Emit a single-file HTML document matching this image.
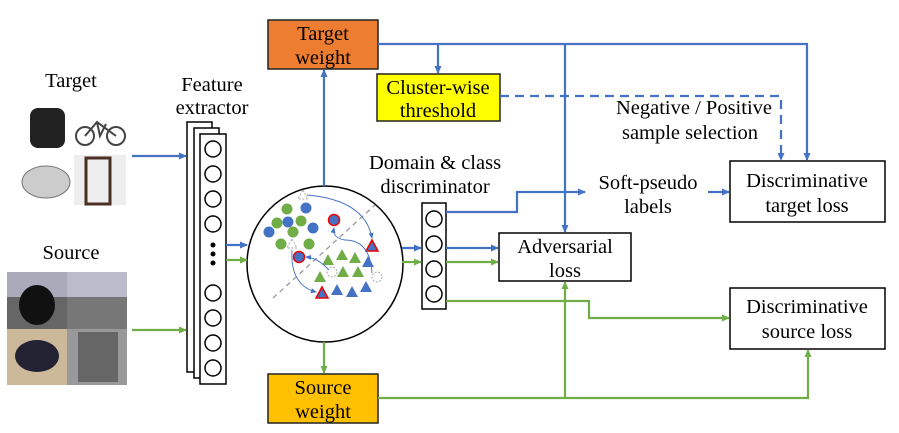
<!DOCTYPE html>
<html><head><meta charset="utf-8"><style>
html,body{margin:0;padding:0;background:#fff;}
svg{display:block;font-family:"Liberation Serif",serif;}
</style></head><body>
<svg width="899" height="433" viewBox="0 0 899 433" xmlns="http://www.w3.org/2000/svg">
<defs>
<marker id="ab" markerWidth="8" markerHeight="8" refX="7" refY="4" orient="auto" markerUnits="userSpaceOnUse"><path d="M0,0.5 L8,4 L0,7.5z" fill="#4472C4"/></marker>
<marker id="ag" markerWidth="8" markerHeight="8" refX="7" refY="4" orient="auto" markerUnits="userSpaceOnUse"><path d="M0,0.5 L8,4 L0,7.5z" fill="#70AD47"/></marker>
<marker id="as" markerWidth="6" markerHeight="6" refX="5" refY="3" orient="auto" markerUnits="userSpaceOnUse"><path d="M0,0.5 L6,3 L0,5.5z" fill="#4472C4"/></marker>
</defs>
<g font-size="20.5" text-anchor="middle" fill="#000">
<text x="71" y="87">Target</text>
<text x="71" y="259">Source</text>
<text x="212" y="91">Feature</text>
<text x="212" y="114">extractor</text>
<text x="435" y="169">Domain &amp; class</text>
<text x="435" y="193">discriminator</text>
<text x="648" y="189">Soft-pseudo</text>
<text x="648" y="213">labels</text>
<text x="694" y="114">Negative / Positive</text>
<text x="690" y="139">sample selection</text>
</g>
<!-- target images -->
<rect x="30" y="108" width="35" height="40" rx="8" fill="#222"/>
<g stroke="#444" stroke-width="2" fill="none"><circle cx="85" cy="136" r="9"/><circle cx="116" cy="136" r="9"/><path d="M85,136 L97,122 L116,136 M97,122 L100,136 L106,124"/></g>
<ellipse cx="46" cy="182" rx="24" ry="16" fill="#ccc" stroke="#777"/>
<rect x="74" y="155" width="52" height="50" fill="#eee"/>
<rect x="86" y="158" width="24" height="46" fill="none" stroke="#4a2f22" stroke-width="3"/>
<!-- source images -->
<rect x="7" y="272" width="60" height="57" fill="#666"/><rect x="7" y="272" width="60" height="25" fill="#aab"/>
<ellipse cx="37" cy="305" rx="18" ry="20" fill="#111"/>
<rect x="67" y="272" width="60" height="57" fill="#777"/><rect x="67" y="272" width="60" height="25" fill="#bbc"/>
<rect x="7" y="329" width="60" height="56" fill="#cbb99a"/><ellipse cx="37" cy="356" rx="22" ry="16" fill="#223"/>
<rect x="67" y="329" width="60" height="56" fill="#999"/><rect x="78" y="332" width="40" height="50" fill="#666"/>
<!-- feature extractor -->
<g stroke="#000" stroke-width="1.5" fill="#fff">
<rect x="187" y="122" width="25" height="250"/>
<rect x="194" y="128" width="25" height="250"/>
<rect x="200" y="134" width="26" height="250"/>
<circle cx="213" cy="149" r="8"/><circle cx="213" cy="174" r="8"/><circle cx="213" cy="199" r="8"/><circle cx="213" cy="224" r="8"/>
<circle cx="213" cy="293" r="8"/><circle cx="213" cy="318" r="8"/><circle cx="213" cy="343" r="8"/><circle cx="213" cy="368" r="8"/>
</g>
<circle cx="213" cy="245" r="2.5"/><circle cx="213" cy="254" r="2.5"/><circle cx="213" cy="263" r="2.5"/>
<!-- big circle -->
<circle cx="325" cy="264" r="78" fill="#fff" stroke="#000" stroke-width="1.5"/>
<line x1="273" y1="298" x2="375" y2="205" stroke="#999" stroke-dasharray="5,4" stroke-width="1.3"/>
<g fill="#70AD47"><circle cx="287" cy="209" r="5.5"/><circle cx="277" cy="223" r="5.5"/><circle cx="301" cy="221" r="5.5"/><circle cx="293" cy="232" r="5.5"/><circle cx="281" cy="244" r="5.5"/><circle cx="309" cy="244" r="5.5"/></g>
<g fill="#4472C4"><circle cx="306" cy="208" r="5.5"/><circle cx="288" cy="222" r="5.5"/><circle cx="313" cy="228" r="5.5"/><circle cx="269" cy="232" r="5.5"/></g>
<g fill="#4472C4" stroke="#e00" stroke-width="1.5"><circle cx="334" cy="220" r="5.5"/><circle cx="299" cy="257" r="5.5"/>
<path d="M372,240 L378,251 L366,251z"/><path d="M322,287 L328,298 L316,298z"/></g>
<g fill="#70AD47"><path d="M328,254 L334,265 L322,265z"/><path d="M342,249 L348,260 L336,260z"/><path d="M355,252 L361,263 L349,263z"/><path d="M320,271 L326,282 L314,282z"/><path d="M343,266 L349,277 L337,277z"/><path d="M358,266 L364,277 L352,277z"/></g>
<g fill="#4472C4"><path d="M368,256 L374,267 L362,267z"/><path d="M337,284 L343,295 L331,295z"/><path d="M352,286 L358,297 L346,297z"/><path d="M366,281 L372,292 L360,292z"/></g>
<g fill="#fff" stroke="#aaa" stroke-dasharray="2,1.5"><path d="M303,190 L308,199 L298,199z"/><path d="M292,239 L297,248 L287,248z"/><circle cx="332" cy="272" r="5"/><circle cx="377" cy="277" r="5"/></g>
<g fill="none" stroke="#4472C4" stroke-width="0.9">
<path d="M307,195 Q365,200 372,238" marker-end="url(#as)"/>
<path d="M372,273 Q370,240 345,240 Q332,238 334,228" marker-end="url(#as)"/>
<path d="M329,270 Q318,258 306,257" marker-end="url(#as)"/>
<path d="M292,250 Q290,285 316,292" marker-end="url(#as)"/>
</g>
<!-- discriminator -->
<g stroke="#000" stroke-width="1.5" fill="#fff">
<rect x="422" y="203" width="24" height="106"/>
<circle cx="434" cy="219" r="8"/><circle cx="434" cy="244" r="8"/><circle cx="434" cy="269" r="8"/><circle cx="434" cy="294" r="8"/>
</g>
<!-- boxes -->
<rect x="268" y="20" width="110" height="49" fill="#ED7D31" stroke="#222" stroke-width="1.5"/>
<rect x="268" y="374" width="110" height="49" fill="#FFC000" stroke="#222" stroke-width="1.5"/>
<rect x="377" y="74" width="123" height="47" fill="#FFFF00" stroke="#222" stroke-width="1.5"/>
<rect x="499" y="233" width="132" height="48" fill="#fff" stroke="#000" stroke-width="1.5"/>
<rect x="730" y="161" width="155" height="61" fill="#fff" stroke="#000" stroke-width="1.5"/>
<rect x="730" y="288" width="155" height="61" fill="#fff" stroke="#000" stroke-width="1.5"/>
<g font-size="20.5" text-anchor="middle">
<text x="323" y="40">Target</text><text x="323" y="64">weight</text>
<text x="323" y="394">Source</text><text x="323" y="418">weight</text>
<text x="438" y="94">Cluster-wise</text><text x="438" y="117">threshold</text>
<text x="565" y="253">Adversarial</text><text x="565" y="277">loss</text>
<text x="807" y="187">Discriminative</text><text x="807" y="212">target loss</text>
<text x="807" y="313">Discriminative</text><text x="807" y="338">source loss</text>
</g>
<!-- blue connectors -->
<g fill="none" stroke="#4472C4" stroke-width="2.2">
<line x1="132" y1="156" x2="186" y2="156" marker-end="url(#ab)"/>
<line x1="226" y1="245" x2="247" y2="245" marker-end="url(#ab)"/>
<line x1="402" y1="248" x2="421" y2="248" marker-end="url(#ab)"/>
<line x1="324" y1="186" x2="324" y2="70" marker-end="url(#ab)"/>
<polyline points="378,44 807,44 807,160" marker-end="url(#ab)"/>
<line x1="438" y1="44" x2="438" y2="73" marker-end="url(#ab)"/>
<line x1="565" y1="44" x2="565" y2="232" marker-end="url(#ab)"/>
<polyline points="500,96 781,96 781,160" stroke-dasharray="9,6" marker-end="url(#ab)"/>
<polyline points="446,212 517,212 517,192 585,192" marker-end="url(#ab)"/>
<line x1="708" y1="192" x2="729" y2="192" marker-end="url(#ab)"/>
<line x1="446" y1="248" x2="498" y2="248" marker-end="url(#ab)"/>
</g>
<!-- green connectors -->
<g fill="none" stroke="#70AD47" stroke-width="2.2">
<line x1="132" y1="330" x2="186" y2="330" marker-end="url(#ag)"/>
<line x1="226" y1="260" x2="247" y2="260" marker-end="url(#ag)"/>
<line x1="402" y1="262" x2="421" y2="262" marker-end="url(#ag)"/>
<line x1="446" y1="262" x2="498" y2="262" marker-end="url(#ag)"/>
<line x1="324" y1="342" x2="324" y2="373" marker-end="url(#ag)"/>
<polyline points="446,301 589,301 589,318 729,318" marker-end="url(#ag)"/>
<polyline points="378,398 808,398 808,350" marker-end="url(#ag)"/>
<line x1="565" y1="398" x2="565" y2="282" marker-end="url(#ag)"/>
</g>
</svg>
</body></html>
